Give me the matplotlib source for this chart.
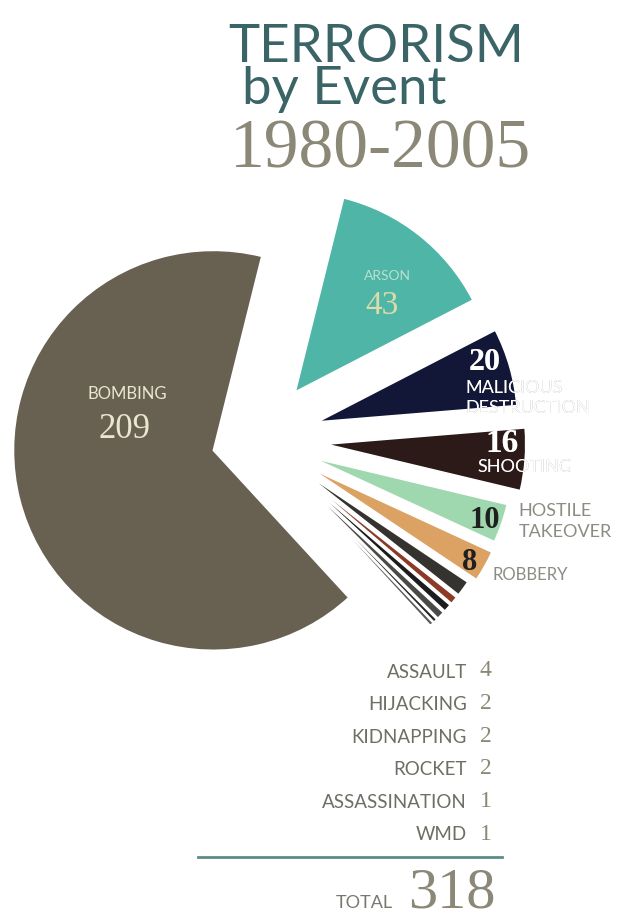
import matplotlib.pyplot as plt

events = ['ARSON', 'MALICIOUS DESTRUCTION', 'SHOOTING', 'HOSTILE TAKEOVER', 'ROBBERY',
          'ASSAULT', 'HIJACKING', 'KIDNAPPING', 'ROCKET', 'ASSASSINATION', 'WMD', 'BOMBING']
counts = [43, 20, 16, 10, 8, 4, 2, 2, 2, 1, 1, 209]
colors = ['#4fb5a7', '#121637', '#2b1a17', '#9fd8ae', '#dca263',
          '#34332f', '#8a3a25', '#1c1c1c', '#4a4a47', '#262626', '#5a5a58', '#686152']
# how far each slice is pulled out, as a share of the radius
explode = [0.30, 0.31, 0.34, 0.29, 0.30, 0.27, 0.27, 0.27, 0.27, 0.27, 0.27, 0.23]

small_events = ['ASSAULT', 'HIJACKING', 'KIDNAPPING', 'ROCKET', 'ASSASSINATION', 'WMD']
small_counts = [4, 2, 2, 2, 1, 1]
total = sum(counts)

W, H = 621, 914
R = 200
fig = plt.figure(figsize=(W / 100, H / 100), dpi=100)
ax = fig.add_axes([0, 0, 1, 1])


def py(y):
    # pixel row -> data y
    return H - y


# pie() takes explode in data units, so scale by the radius
wedges, _ = ax.pie(counts, colors=colors, explode=[e * R for e in explode], startangle=76,
                   counterclock=False, radius=R, center=(258, py(439)),
                   wedgeprops=dict(edgecolor='white', linewidth=1.2))
ax.set_xlim(0, W)
ax.set_ylim(0, H)
ax.set_aspect('equal')
ax.axis('off')

sans = ['Lato', 'DejaVu Sans']
serif = ['Liberation Serif', 'DejaVu Serif']
teal = '#3a6466'
olive = '#8b8877'

# title
ax.text(228, py(62), 'TERRORISM', fontsize=38, family=sans, color=teal, va='baseline')
ax.text(242, py(104), 'by Event', fontsize=38, family=sans, color=teal, va='baseline')
ax.text(230, py(167), '1980-2005', fontsize=50, family=serif, color=olive, va='baseline')

# labels inside the big slices
ax.text(127, py(394), 'BOMBING', fontsize=12, family=sans, color='#ebe6d2', ha='center', va='center')
ax.text(125, py(429), str(counts[11]), fontsize=25, family=serif, color='#ebe6d2', ha='center', va='center')
ax.text(387, py(276), 'ARSON', fontsize=10, family=sans, color='#b9e0d0', ha='center', va='center')
ax.text(382, py(306), str(counts[0]), fontsize=24, family=serif, color='#dcdca8', ha='center', va='center')


def split_text(x, y, s, wedge, size, fam, inside, outside, weight='normal'):
    # gray text with a white copy clipped to the slice it overlaps
    ax.text(x, y, s, fontsize=size, family=fam, color=outside, va='center', weight=weight)
    t = ax.text(x, y, s, fontsize=size, family=fam, color=inside, va='center', weight=weight)
    t.set_clip_path(wedge)


split_text(469, py(362), str(counts[1]), wedges[1], 23, serif, 'white', '#999', weight='bold')
split_text(465, py(388), 'MALICIOUS', wedges[1], 13, sans, 'white', '#9a9a95')
split_text(465, py(408), 'DESTRUCTION', wedges[1], 13, sans, 'white', '#9a9a95')
split_text(485, py(444), str(counts[2]), wedges[2], 24, serif, 'white', '#999', weight='bold')
split_text(477, py(467), 'SHOOTING', wedges[2], 13, sans, 'white', '#9a9a95')

ax.text(469, py(520), str(counts[3]), fontsize=22, family=serif, color='#1f1f1f', weight='bold', va='center')
ax.text(518, py(511), 'HOSTILE', fontsize=13, family=sans, color='#8d8c84', va='center')
ax.text(519, py(532), 'TAKEOVER', fontsize=13, family=sans, color='#8d8c84', va='center')
ax.text(462, py(563), str(counts[4]), fontsize=22, family=serif, color='#1f1f1f', weight='bold', va='center')
ax.text(492, py(575), 'ROBBERY', fontsize=12, family=sans, color='#8d8c84', va='center')

# list of the thin slices
for i, (name, n) in enumerate(zip(small_events, small_counts)):
    y = py(672 + i * 32.6)
    ax.text(467, y, name, fontsize=13.5, family=sans, color='#6f6d64', ha='right', va='center')
    ax.text(480, y + 1, str(n), fontsize=17, family=serif, color=olive, va='center')

ax.plot([198, 502], [py(857), py(857)], color='#5b8d88', lw=2)
ax.text(393, py(908), 'TOTAL', fontsize=13, family=sans, color='#7a786e', ha='right', va='baseline')
ax.text(408, py(908), str(total), fontsize=42, family=serif, color=olive, va='baseline')

fig.savefig('out.png', dpi=100, facecolor='white')
